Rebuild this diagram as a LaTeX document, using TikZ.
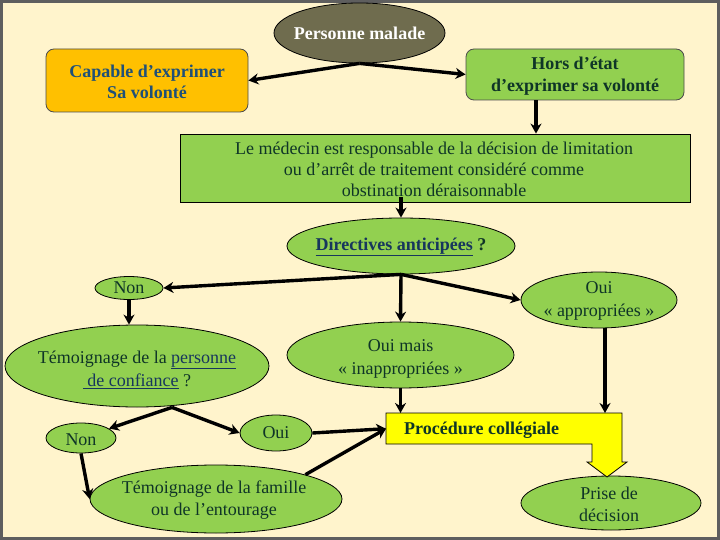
\documentclass[tikz,border=0pt]{standalone}
\usepackage{fontspec}
\setmainfont{Liberation Serif}
\usetikzlibrary{shapes.geometric,arrows.meta,calc}
\definecolor{bg}{HTML}{FFF4CC}
\definecolor{framec}{HTML}{5E5E5E}
\definecolor{grn}{HTML}{92D050}
\definecolor{org}{HTML}{FFC000}
\definecolor{olive}{HTML}{6F6C4E}
\definecolor{ylw}{HTML}{FFFF00}
\definecolor{txt}{HTML}{0F3527}
\definecolor{lnk}{HTML}{17365D}
\definecolor{captxt}{HTML}{1F5078}
\begin{document}
\begin{tikzpicture}[x=1pt,y=-1pt,
  ell/.style={ellipse, draw=black, line width=0.8pt, fill=grn, inner sep=0pt},
  lbl/.style={align=center, text=txt, font=\fontsize{18}{23}\selectfont, inner sep=0pt},
  blbl/.style={align=center, font=\bfseries\fontsize{18}{21.5}\selectfont, inner sep=0pt},
  arr/.style={line width=3.4pt, -{Stealth[length=10pt,width=11pt]}},
]
% background and frame
\fill[bg] (0,0) rectangle (720,540);
\draw[framec, line width=3pt] (1.5,1.5) rectangle (718.5,538.5);
\useasboundingbox (0,0) rectangle (720,540);

% top
\node[ellipse, draw=black, line width=0.8pt, fill=olive, inner sep=0pt,
      minimum width=171pt, minimum height=60pt] (pm) at (359.5,33) {};
\node[blbl, text=white] (pmt) at (359.5,33) {Personne malade};

\node[draw=black!70, line width=0.8pt, fill=org, rounded corners=8pt,
      minimum width=202pt, minimum height=63pt, inner sep=0pt] (cap) at (147,80.5) {};
\node[blbl, text=captxt] (capt) at (147,82) {Capable d’exprimer\\Sa volonté};

\node[draw=black!70, line width=0.8pt, fill=grn, rounded corners=8pt,
      minimum width=218pt, minimum height=51pt, inner sep=0pt] (hors) at (575,74.5) {};
\node[blbl, text=txt] (horst) at (575,76) {Hors d’état\\d’exprimer sa volonté};

\node[draw=black, line width=0.8pt, fill=grn,
      minimum width=510pt, minimum height=68pt, inner sep=0pt] (med) at (435,168) {};
\node[lbl, font=\fontsize{18}{21}\selectfont] (medt) at (434,169)
  {Le médecin est responsable de la décision de limitation\\ou d’arrêt de traitement considéré comme\\obstination déraisonnable};

\node[ell, minimum width=228pt, minimum height=56pt] (dir) at (401,246) {};
\node[lbl, font=\bfseries\fontsize{18}{23}\selectfont] (dirt) at (401,247)
  {\textcolor{lnk}{\underline{Directives anticipées}} ?};

\node[ell, minimum width=68pt, minimum height=23pt] (non) at (129,288) {};
\node[lbl] (nont) at (129,288) {Non};

\node[ell, minimum width=156pt, minimum height=56pt] (oa) at (599,300) {};
\node[lbl] (oat) at (599,301) {Oui\\«~appropriées~»};

\node[ell, minimum width=264pt, minimum height=82pt] (tem) at (137,366) {};
\node[lbl] (temt) at (137,369.5)
  {Témoignage de la \textcolor{lnk}{\underline{personne}}\\\textcolor{lnk}{\underline{\ de confiance}} ?};

\node[ell, minimum width=227pt, minimum height=66pt] (om) at (400.5,355) {};
\node[lbl] (omt) at (400.5,358.5) {Oui mais\\«~inappropriées~»};

\node[ell, minimum width=70pt, minimum height=30pt] (non2) at (81,438) {};
\node[lbl] (non2t) at (81,440) {Non};

\node[ell, minimum width=72pt, minimum height=36pt] (oui) at (276,433) {};
\node[lbl] (ouit) at (276,433) {Oui};

\node[ell, minimum width=252pt, minimum height=68pt] (fam) at (216,499) {};
\node[lbl, font=\fontsize{18}{22}\selectfont] (famt) at (214,500)
  {Témoignage de la famille\\ou de l’entourage};

\node[ell, minimum width=180pt, minimum height=54pt] (pd) at (611,503) {};
\node[lbl, font=\fontsize{18}{22}\selectfont] (pdt) at (609,504) {Prise de\\décision};

% procedure collegiale bent arrow
\filldraw[fill=ylw, draw=black, line width=0.8pt]
  (386,413) -- (622,413) -- (622,462) -- (627,462) -- (607,477) -- (587,462)
  -- (592,462) -- (592,444) -- (386,444) -- cycle;
\node[minimum width=236pt, minimum height=31pt, inner sep=0pt, anchor=north west]
  (proc) at (386,413) {};
\node[blbl, text=txt, anchor=base west] (proct) at (404,434) {Procédure collégiale};

% connectors
\draw[arr] (pm.south) -- (cap.east);
\draw[arr] (pm.south) -- (hors.west);
\draw[arr] ([xshift=-39pt]hors.south) -- ([xshift=-39pt]hors.south |- med.north);
\draw[arr] ([yshift=5pt]med.south -| dir.north) -- (dir.north);
\draw[arr] (dir.south) -- (non.east);
\draw[arr] (dir.south) -- (om.north);
\draw[arr] (dir.south) -- (oa.west);
\draw[arr] (non.south) -- (non.south |- tem.north);
\draw[arr] ([xshift=35pt]tem.south) -- (non2);
\draw[arr] ([xshift=35pt]tem.south) -- (oui.west);
\draw[arr] (non2.south) -- (fam.west);
\draw[arr] (oui.east) -- (proc.west);
\draw[arr] (fam.north east) -- (proc.west);
\draw[arr] (om.south) -- (om.south |- proc.north);
\draw[arr] ([xshift=6pt]oa.south) -- ([xshift=6pt]oa.south |- proc.north);
\end{tikzpicture}
\end{document}
